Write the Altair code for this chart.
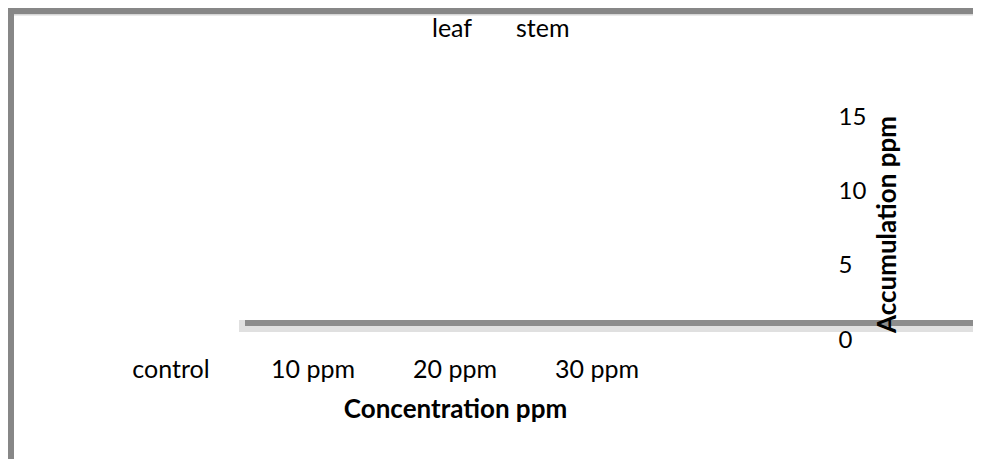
import altair as alt
import pandas as pd

# ---- data (no bars are visible in it) ----
categories = ["control", "10 ppm", "20 ppm", "30 ppm"]
series = ["leaf", "stem"]
leaf_values = [0, 0, 0, 0]
stem_values = [0, 0, 0, 0]
y_ticks = [0, 5, 10, 15]
x_title = "Concentration  ppm"
y_title = "Accumulation ppm"

rows = []
for i, c in enumerate(categories):
    rows.append({"Concentration": c, "Part": "leaf", "Accumulation": leaf_values[i]})
    rows.append({"Concentration": c, "Part": "stem", "Accumulation": stem_values[i]})
df = pd.DataFrame(rows)

FONT = "Lato"
W, H = 568, 223
PL, PT = 92, 109
PR = 965 - PL - W
PB = 451 - PT - H

bars = alt.Chart(df).mark_bar(strokeWidth=0).encode(
    x=alt.X(
        "Concentration:N",
        sort=categories,
        scale=alt.Scale(paddingInner=0, paddingOuter=0),
        axis=alt.Axis(
            title=x_title, labelAngle=0, domain=False, ticks=False, tickSize=0, grid=False,
            labelFont=FONT, labelFontSize=25, labelColor="black", labelPadding=37,
            labelBaseline="alphabetic",
            titleFont=FONT, titleFontSize=26, titleFontWeight="bold", titleColor="black",
            titleBaseline="alphabetic", titleX=355, titleY=77, titleAlign="center",
            zindex=1,
        ),
    ),
    xOffset=alt.XOffset("Part:N", sort=series),
    y=alt.Y(
        "Accumulation:Q",
        scale=alt.Scale(domain=[0, 15], nice=False, zero=True),
        axis=alt.Axis(
            orient="right", offset=170, values=y_ticks, title=y_title,
            domain=False, ticks=False, tickSize=0, grid=False, labelPadding=0,
            labelFont=FONT, labelFontSize=24, labelColor="black", labelAlign="left",
            labelBaseline="middle",
            titleFont=FONT, titleFontSize=26, titleFontWeight="bold", titleColor="black",
            titleAngle=270, titleBaseline="alphabetic", titleAlign="center",
            titleX=57, titleY=107, zindex=1,
        ),
    ),
    color=alt.Color(
        "Part:N", sort=series,
        scale=alt.Scale(range=["#4f81bd", "#c0504d"]),
        legend=alt.Legend(
            title=None, orient="none", legendX=307, legendY=-101, direction="horizontal",
            symbolOpacity=0, symbolSize=0, symbolStrokeWidth=0, labelOffset=0, padding=0,
            columnPadding=18, labelFont=FONT, labelFontSize=25, labelColor="black",
        ),
    ),
)

one = alt.Data(values=[{"k": 1}])


def rule(x1, x2, y1, y2, color, w):
    return alt.Chart(one).mark_rule(color=color, strokeWidth=w, strokeCap="butt").encode(
        x=alt.value(x1), x2=alt.value(x2), y=alt.value(y1), y2=alt.value(y2)
    )


# page px -> plot px : x - 100, y - 117
frame_top = rule(-92, 890, -106, -106, "#878787", 6)
frame_top_shadow = rule(-86, 890, -102.3, -102.3, "#d6d6d6", 1.5)
frame_left = rule(-89, -89, -109, 360, "#878787", 6)
base_light = rule(139, 890, 209, 209, "#e0e0e0", 12)
base_dark = rule(145, 890, 206, 206, "#8c8c8c", 6)

chart = alt.layer(
    frame_top_shadow, frame_top, frame_left, base_light, base_dark, bars
).properties(
    width=W, height=H,
    padding={"left": PL, "top": PT, "right": PR, "bottom": PB},
    autosize=alt.AutoSizeParams(type="none"),
    background="white",
).configure_view(stroke=None)

chart.save("out.html", embed_options={"renderer": "svg", "actions": False})
